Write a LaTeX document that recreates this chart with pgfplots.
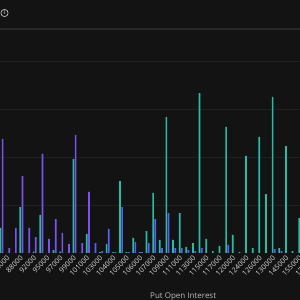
\documentclass[border=0pt]{standalone}
\usepackage{fontspec}
\setmainfont{Open Sans}
\usepackage{pgfplots}
\pgfplotsset{compat=1.18}
\definecolor{bg}{RGB}{19,19,19}
\definecolor{gridc}{RGB}{32,32,32}
\definecolor{topline}{RGB}{40,40,40}
\definecolor{callc}{RGB}{40,188,165}
\definecolor{putc}{RGB}{122,84,240}
\definecolor{putb}{RGB}{90,96,240}
\definecolor{txt}{RGB}{220,220,220}
\begin{document}
\begin{tikzpicture}
\useasboundingbox (0,0) rectangle (300pt,300pt);
\fill[bg] (-30pt,-10pt) rectangle (330pt,310pt);
\begin{axis}[
  at={(-20pt,47pt)}, anchor=south west,
  width=340pt, height=224pt, scale only axis,
  xmin=-3.24, xmax=47.97, ymin=0, ymax=4666.7,
  axis line style={draw=none},
  major tick length=0pt,
  ytick={1000,2000,3000,4000}, yticklabels={},
  ymajorgrids, grid style={color=gridc, line width=0.8pt},
  xtick={0,2,...,46},
  xticklabels={85000,88000,92000,95000,97000,99000,101000,103000,104000,105000,106000,107000,109000,111000,113000,115000,117000,120000,124000,126000,130000,145000,155000,170000},
  xticklabel style={rotate=45, anchor=north east, inner sep=0pt, xshift=2pt, yshift=-5pt, font=\fontsize{7.1}{7.5}\selectfont, text=txt},
]
\addplot[ybar, bar width=1.7pt, bar shift=-1.1pt, fill=callc, draw=none] coordinates {
(0,521)(1,0)(2,0)(3,958)(4,0)(5,30)(6,792)(7,0)(8,60)(9,30)(10,0)(11,1958)(12,0)(13,396)(14,0)(15,20)(16,188)(17,20)(18,1500)(19,20)(20,313)(21,20)(22,458)(23,1250)(24,271)(25,2833)(26,271)(27,833)(28,125)(29,208)(30,3333)(31,292)(32,40)(33,146)(34,2625)(35,375)(36,20)(37,2021)(38,104)(39,2417)(40,1229)(41,3250)(42,104)(43,2229)(44,40)(45,729)};
\addplot[ybar, bar width=1.7pt, bar shift=1.1pt, fill=putc, draw=none] coordinates {
(0,2375)(1,104)(2,521)(3,1604)(4,521)(5,333)(6,2063)(7,292)(8,708)(9,417)(10,188)(11,2458)(12,208)(13,1271)};
\addplot[ybar, bar width=1.7pt, bar shift=1.1pt, fill=putb, draw=none] coordinates {
(14,208)(15,40)(16,500)(17,20)(18,958)(19,20)(20,229)(21,20)(22,208)(23,708)(24,104)(25,833)(26,104)(27,104)(28,60)(29,40)(30,104)(34,167)(41,83)(42,40)};
\end{axis}
\draw[topline, line width=1.8pt] (0,271pt) -- (300pt,271pt);
\draw[txt!85!black, line width=0.7pt] (4.5pt,287pt) circle (3.6pt);
\node[txt!85!black, font=\fontsize{5}{5}\selectfont\bfseries, inner sep=0pt] at (4.5pt,287pt) {i};
\node[anchor=base west, inner sep=0pt, text=txt!85!black, font=\fontsize{8}{9}\selectfont] at (150pt,1.3pt) {Put Open Interest};
\end{tikzpicture}
\end{document}
